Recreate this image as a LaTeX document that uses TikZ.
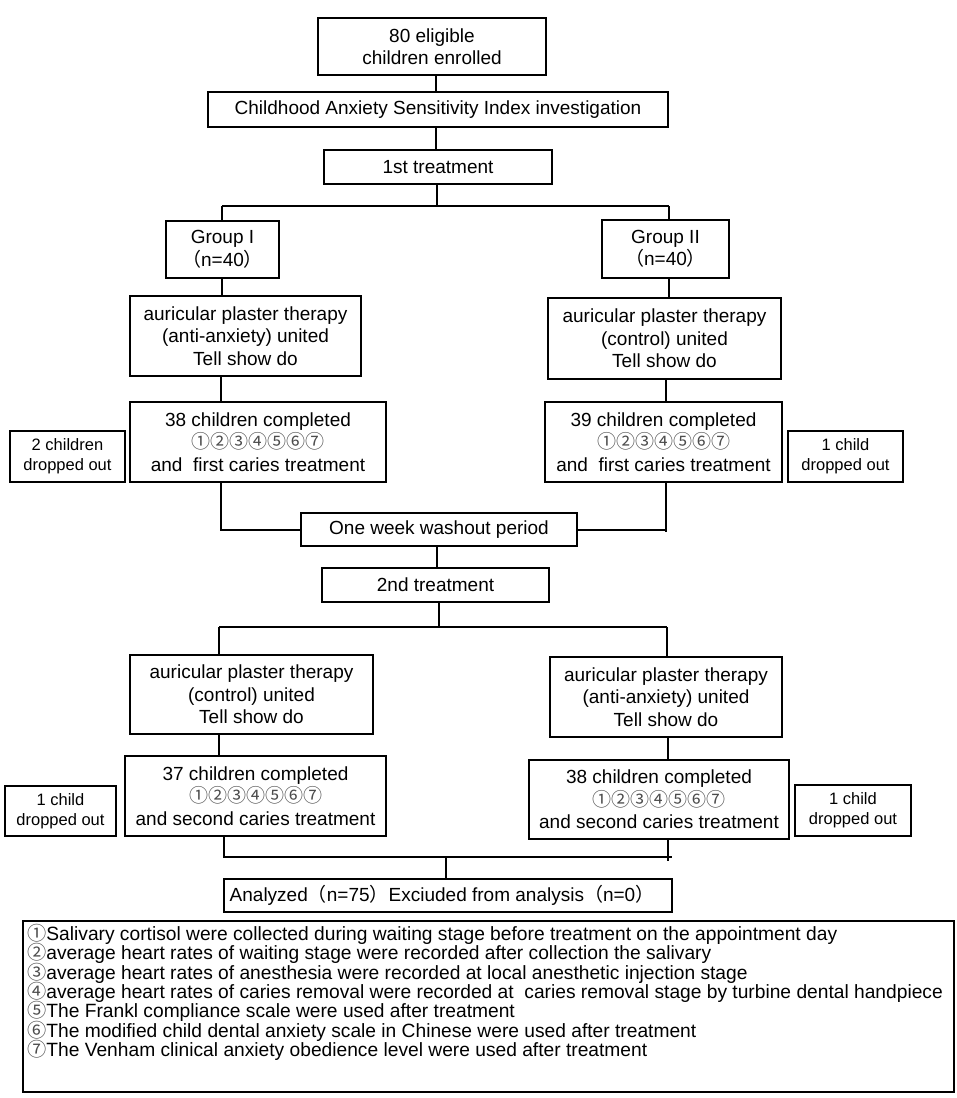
\documentclass[tikz,border=0pt]{standalone}
\usepackage{fontspec}
\setmainfont{Liberation Sans}
\newfontfamily\cjk{Noto Sans CJK SC}
\newcommand\cdig[1]{{\cjk\textcolor{black!70}{#1}}}
\newcommand\lpar{{\cjk （}}
\newcommand\rpar{{\cjk ）}}
\newcommand\allcirc{\cdig{①②③④⑤⑥⑦}}
\tikzset{
  box/.style={draw, line width=2pt, align=center, inner sep=0pt,
    font=\fontsize{19}{22.5}\selectfont},
  smallbox/.style={box, font=\fontsize{16.5}{20}\selectfont},
  ln/.style={line width=1.2pt},
  legline/.style={anchor=base west, inner sep=0pt, font=\fontsize{19.2}{19.4}\selectfont}
}
\begin{document}
\begin{tikzpicture}[x=1pt,y=-1pt]
\useasboundingbox (0,0) rectangle (957,1098);
% boxes
\node[box, minimum width=228, minimum height=57] (n80) at (432,46.5) {80 eligible\\children enrolled};
\node[box, minimum width=460, minimum height=35] (casi) at (438,109.5) {Childhood Anxiety Sensitivity Index investigation};
\node[box, minimum width=228, minimum height=34] (t1) at (438,167) {1st treatment};
\node[box, minimum width=113, minimum height=57] (g1) at (222.5,249.5) {Group I\\\lpar n=40\rpar};
\node[box, minimum width=127, minimum height=58] (g2) at (665.5,249) {Group II\\\lpar n=40\rpar};
\node[box, minimum width=231, minimum height=80] (th1) at (245.5,336) {auricular plaster therapy\\(anti-anxiety) united\\Tell show do};
\node[box, minimum width=233, minimum height=81] (th2) at (664.5,338.5) {auricular plaster therapy\\(control) united\\Tell show do};
\node[box, minimum width=256, minimum height=80] (c38) at (258,442) {38 children completed\\\allcirc\\and\ \ first caries treatment};
\node[box, minimum width=237, minimum height=80] (c39) at (663.5,442) {39 children completed\\\allcirc\\and\ \ first caries treatment};
\node[smallbox, minimum width=115, minimum height=51] (d2) at (67.5,456.5) {2 children\\dropped out};
\node[smallbox, minimum width=115, minimum height=51] (d1a) at (845.5,456.5) {1 child\\dropped out};
\node[box, minimum width=276, minimum height=33] (wash) at (439,529.5) {One week washout period};
\node[box, minimum width=227, minimum height=34] (t2) at (435.5,585) {2nd treatment};
\node[box, minimum width=243, minimum height=79] (th3) at (251.5,694.5) {auricular plaster therapy\\(control) united\\Tell show do};
\node[box, minimum width=232, minimum height=80] (th4) at (666,697) {auricular plaster therapy\\(anti-anxiety) united\\Tell show do};
\node[box, minimum width=261, minimum height=80] (c37) at (255.5,796) {37 children completed\\\allcirc\\and second caries treatment};
\node[box, minimum width=260, minimum height=79] (c38b) at (659,799.5) {38 children completed\\\allcirc\\and second caries treatment};
\node[smallbox, minimum width=111, minimum height=50] (d1b) at (60.5,811) {1 child\\dropped out};
\node[smallbox, minimum width=116, minimum height=51] (d1c) at (853,810.5) {1 child\\dropped out};
\node[box, minimum width=448, minimum height=33] (an) at (448,895.5) {\hspace*{-12pt}Analyzed\lpar n=75\rpar Exciuded from analysis\lpar n=0\rpar};
% connectors
\coordinate (j1) at (437,206);
\coordinate (j1l) at (222,206);
\coordinate (j1r) at (669,206);
\coordinate (wl) at (221,530);
\coordinate (wr) at (666,530);
\coordinate (j2) at (439,627);
\coordinate (j2l) at (219,627);
\coordinate (j2r) at (667,627);
\coordinate (j3l) at (224,857);
\coordinate (j3r) at (672,857);
\coordinate (j3c) at (446,857);
\draw[ln] (436,75) coordinate (a1) -- (a1 |- casi.north);
\draw[ln] (436,127) coordinate (a2) -- (a2 |- t1.north);
\draw[ln] (t1.south -| j1) -- (j1);
\draw[ln] (j1l) -- (j1r);
\draw[ln] (j1l) -- (j1l |- g1.north);
\draw[ln] (j1r) -- (j1r |- g2.north);
\draw[ln] (g1.south -| j1l) -- (j1l |- th1.north);
\draw[ln] (g2.south -| j1r) -- (j1r |- th2.north);
\draw[ln] (th1.south -| wl) -- (wl |- c38.north);
\draw[ln] (th2.south -| wr) -- (wr |- c39.north);
\draw[ln] (c38.south -| wl) -- (wl) -- (wash.west |- wl);
\draw[ln] (c39.south -| wr) -- (wr) -- (wash.east |- wr);
\draw[ln] (wr) -- ++(0,2);
\draw[ln] (wash.south -| 437,0) -- (t2.north -| 437,0);
\draw[ln] (t2.south -| j2) -- (j2);
\draw[ln] (j2l) -- (j2r);
\draw[ln] (j2l) -- (j2l |- th3.north);
\draw[ln] (j2r) -- (j2r |- th4.north);
\draw[ln] (th3.south -| j2l) -- (j2l |- c37.north);
\draw[ln] (th4.south -| 668,0) -- (c38b.north -| 668,0);
\draw[ln] (c37.south -| j3l) -- (j3l) -- (j3r);
\draw[ln] (c38b.south -| 668,0) -- (668,861);
\draw[ln] (j3c) -- (j3c |- an.north);
% legend
\draw[line width=2pt] (23,921) rectangle (954,1092);
\node[legline] (L1) at (27,940) {\cdig{①}Salivary cortisol were collected during waiting stage before treatment on the appointment day};
\node[legline] (L2) at (27,959.5) {\cdig{②}average heart rates of waiting stage were recorded after collection the salivary};
\node[legline] (L3) at (27,979) {\cdig{③}average heart rates of anesthesia were recorded at local anesthetic injection stage};
\node[legline] (L4) at (27,998) {\cdig{④}average heart rates of caries removal were recorded at\ \ caries removal stage by turbine dental handpiece};
\node[legline] (L5) at (27,1017.5) {\cdig{⑤}The Frankl compliance scale were used after treatment};
\node[legline] (L6) at (27,1037) {\cdig{⑥}The modified child dental anxiety scale in Chinese were used after treatment};
\node[legline] (L7) at (27,1056.5) {\cdig{⑦}The Venham clinical anxiety obedience level were used after treatment};
\end{tikzpicture}
\end{document}
